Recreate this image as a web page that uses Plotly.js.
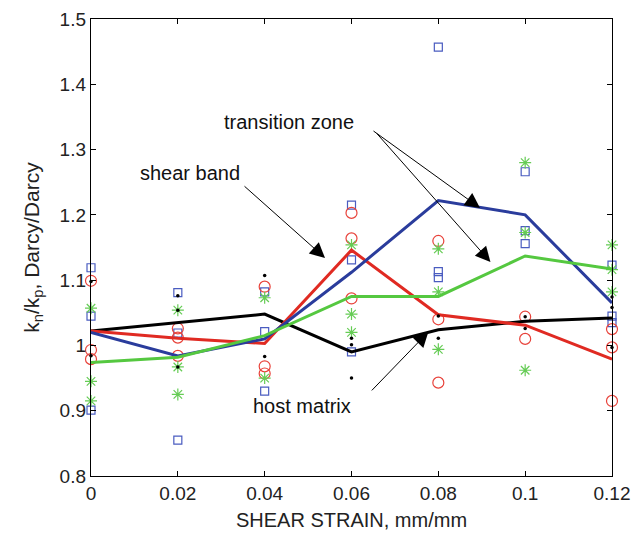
<!DOCTYPE html>
<html>
<head>
<meta charset="utf-8">
<script src="https://cdn.plot.ly/plotly-3.0.1.min.js"></script>
<style>html,body{margin:0;padding:0;background:#fff;}#chart{width:632px;height:534px;}</style>
</head>
<body>
<div id="chart"></div>
<script>
// Strain values
const strain = [0, 0.02, 0.04, 0.06, 0.08, 0.1, 0.12];

// Mean lines
const hostMatrix = [1.022, 1.035, 1.048, 0.990, 1.024, 1.037, 1.042];
const shearBand = [1.022, 1.011, 1.003, 1.146, 1.047, 1.031, 0.979];
const transitionBlue = [1.020, 0.984, 1.010, 1.112, 1.222, 1.200, 1.065];
const transitionGreen = [0.974, 0.982, 1.015, 1.075, 1.075, 1.137, 1.117];

// Individual samples
const blueX = [0,0,0, 0.02,0.02,0.02, 0.04,0.04,0.04, 0.06,0.06,0.06, 0.08,0.08,0.08, 0.1,0.1,0.1, 0.12,0.12,0.12];
const blueY = [1.119,1.045,0.901, 1.081,1.019,0.855, 1.082,1.021,0.930, 1.215,1.131,0.990, 1.457,1.113,1.104, 1.266,1.176,1.156, 1.123,1.045,1.035];

const redX = [0,0,0, 0.02,0.02,0.02, 0.04,0.04,0.04, 0.06,0.06,0.06, 0.08,0.08,0.08, 0.1,0.1, 0.12,0.12,0.12];
const redY = [1.099,0.993,0.979, 1.026,1.012,0.984, 1.090,0.968,0.957, 1.203,1.164,1.072, 1.160,1.040,0.943, 1.044,1.010, 1.025,0.997,0.915];

const greenX = [0,0,0, 0.02,0.02,0.02, 0.04,0.04, 0.06,0.06,0.06, 0.08,0.08,0.08, 0.1,0.1,0.1, 0.12,0.12,0.12];
const greenY = [1.057,0.945,0.915, 1.054,0.967,0.925, 1.073,0.950, 1.154,1.048,1.020, 1.148,1.082,0.994, 1.280,1.173,0.962, 1.154,1.116,1.082];

const blackX = [0,0, 0.02,0.02,0.02, 0.04,0.04, 0.06,0.06,0.06, 0.08,0.08, 0.1,0.1, 0.12,0.12,0.12];
const blackY = [1.098,0.984, 1.076,1.054,0.967, 1.107,0.983, 1.011,1.001,0.950, 1.045,1.011, 1.044,1.026, 1.074,1.058,0.997];

const xTicks = [0, 0.02, 0.04, 0.06, 0.08, 0.1, 0.12];
const xTickText = ['0', '0.02', '0.04', '0.06', '0.08', '0.1', '0.12'];
const yTicks = [0.8, 0.9, 1.0, 1.1, 1.2, 1.3, 1.4, 1.5];
const yTickText = ['0.8', '0.9', '1', '1.1', '1.2', '1.3', '1.4', '1.5'];

const FONT = 'Liberation Sans, Arial, Helvetica, sans-serif';

const traces = [
  {x: blueX, y: blueY, mode: 'markers', type: 'scatter', cliponaxis: false,
   marker: {symbol: 'square-open', size: 8, color: '#4a5cc0', line: {width: 1.2}}},
  {x: redX, y: redY, mode: 'markers', type: 'scatter', cliponaxis: false,
   marker: {symbol: 'circle-open', size: 11, color: '#e8423a', line: {width: 1.2}}},
  {x: greenX, y: greenY, mode: 'markers', type: 'scatter', cliponaxis: false,
   marker: {symbol: 'asterisk-open', size: 10, color: '#66cc55', line: {width: 1.2}}},
  {x: strain, y: hostMatrix, mode: 'lines', type: 'scatter', line: {color: '#000000', width: 3}},
  {x: strain, y: shearBand, mode: 'lines', type: 'scatter', line: {color: '#e02a22', width: 3}},
  {x: strain, y: transitionBlue, mode: 'lines', type: 'scatter', line: {color: '#2a3c9c', width: 3}},
  {x: strain, y: transitionGreen, mode: 'lines', type: 'scatter', line: {color: '#55c840', width: 3}},
  {x: blackX, y: blackY, mode: 'markers', type: 'scatter', cliponaxis: false,
   marker: {symbol: 'circle', size: 3.5, color: '#000000'}}
];

const arrowCommon = {showarrow: true, arrowhead: 2, arrowsize: 3, arrowwidth: 1, arrowcolor: '#000', text: '', xref: 'x', yref: 'y', standoff: 0};
const labelCommon = {xref: 'paper', yref: 'paper', showarrow: false, xanchor: 'center', yanchor: 'middle', font: {size: 20, family: FONT, color: '#111'}};

const layout = {
  width: 632, height: 534,
  margin: {l: 91, r: 20, t: 19, b: 58},
  paper_bgcolor: '#fff', plot_bgcolor: '#fff',
  showlegend: false,
  font: {family: FONT, color: '#222', size: 19},
  xaxis: {
    range: [0, 0.12], tickvals: xTicks, ticktext: xTickText,
    ticks: 'inside', ticklen: 5, tickcolor: '#000', showgrid: false, zeroline: false,
    showline: true, linecolor: '#000', linewidth: 1.2, mirror: 'ticks',
    tickfont: {size: 19, family: FONT, color: '#222'},
    title: {text: 'SHEAR STRAIN, mm/mm', font: {size: 20, family: FONT, color: '#222'}, standoff: 10}
  },
  yaxis: {
    range: [0.8, 1.5], tickvals: yTicks, ticktext: yTickText,
    ticks: 'inside', ticklen: 5, tickcolor: '#000', showgrid: false, zeroline: false,
    showline: true, linecolor: '#000', linewidth: 1.2, mirror: 'ticks',
    tickfont: {size: 19, family: FONT, color: '#222'},
    title: {text: 'k<sub>n</sub>/k<sub>p</sub>, Darcy/Darcy', font: {size: 21, family: FONT, color: '#222'}, standoff: 14}
  },
  annotations: [
    Object.assign({}, arrowCommon, {x: 0.0896, y: 1.2106, ax: -108, ay: -78}),
    Object.assign({}, arrowCommon, {x: 0.0920, y: 1.1279, ax: -115, ay: -130}),
    Object.assign({}, arrowCommon, {x: 0.0539, y: 1.134, ax: -82, ay: -73}),
    Object.assign({}, arrowCommon, {x: 0.0777, y: 1.0207, ax: -58, ay: 60}),
    Object.assign({}, labelCommon, {text: 'transition zone', x: (289-91)/521, y: 1-(122-19)/457}),
    Object.assign({}, labelCommon, {text: 'shear band', x: (190-91)/521, y: 1-(173-19)/457}),
    Object.assign({}, labelCommon, {text: 'host matrix', x: (302-91)/521, y: 1-(406-19)/457})
  ]
};

Plotly.newPlot('chart', traces, layout, {displayModeBar: false, staticPlot: true});
</script>
</body>
</html>
